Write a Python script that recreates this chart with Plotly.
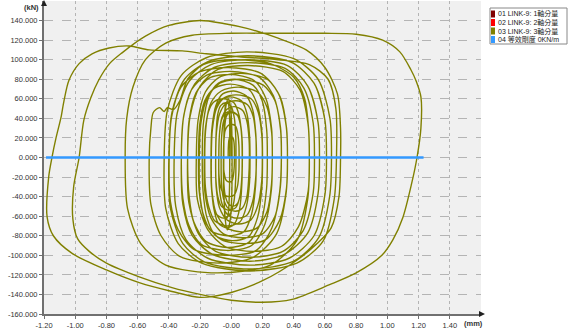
import plotly.graph_objects as go

# ---- hysteresis path of LINK-9, axis 3 (displacement mm, force kN) ----
growth_path = [
    (-0.02, 0),
    (-0.019, 10), (-0.016, 17), (-0.01, 21), (0.0, 22), (0.011, 20), (0.017, 16), (0.02, 8), (0.02, 0),
    (0.019, -9), (0.014, -18), (0.005, -24), (-0.015, -25), (-0.034, -23), (-0.043, -18), (-0.049, -11), (-0.05, 0),
    (-0.048, 15), (-0.04, 27), (-0.025, 32), (0.0, 34), (0.028, 32), (0.042, 24), (0.049, 12), (0.05, 0),
    (0.049, -14), (0.04, -29), (0.02, -38), (-0.015, -40), (-0.05, -37), (-0.07, -29), (-0.079, -18), (-0.08, 0),
    (-0.077, 21), (-0.065, 37), (-0.04, 45), (-0.005, 47), (0.037, 44), (0.058, 34), (0.069, 16), (0.07, 0),
    (0.068, -19), (0.056, -39), (0.03, -51), (-0.015, -54), (-0.063, -50), (-0.086, -40), (-0.098, -24), (-0.10, 0),
    (-0.097, 25), (-0.087, 44), (-0.068, 53), (-0.035, 56), (0.0, 52), (0.02, 40), (0.029, 20), (0.03, 0),
    (0.028, -22), (0.017, -45), (-0.01, -58), (-0.05, -62), (-0.095, -58), (-0.117, -45), (-0.128, -28), (-0.13, 0),
    (-0.125, 28), (-0.105, 48), (-0.068, 59), (-0.005, 62), (0.065, 58), (0.10, 45), (0.117, 22), (0.12, 0),
    (0.117, -25), (0.097, -50), (0.055, -66), (-0.025, -70), (-0.105, -65), (-0.145, -50), (-0.166, -30), (-0.17, 0),
    (-0.165, 27), (-0.146, 47), (-0.11, 57), (-0.05, 60), (0.017, 56), (0.05, 43), (0.067, 21), (0.07, 0),
    (0.068, -26), (0.054, -52), (0.02, -68), (-0.03, -72), (-0.084, -67), (-0.112, -52), (-0.126, -30), (-0.128, 0),
    (-0.122, 31), (-0.099, 53), (-0.055, 65), (0.016, 68), (0.096, 63), (0.137, 49), (0.157, 24), (0.16, 0),
    (0.156, -28), (0.13, -58), (0.08, -76), (-0.025, -80), (-0.13, -75), (-0.18, -58), (-0.206, -34), (-0.21, 0),
    (-0.202, 34), (-0.17, 58), (-0.107, 71), (-0.005, 75), (0.11, 70), (0.167, 54), (0.196, 26), (0.20, 0),
    (0.196, -30), (0.169, -61), (0.11, -81), (0.007, -85), (-0.10, -80), (-0.155, -62), (-0.18, -36), (-0.186, 0),
    (-0.178, 36), (-0.144, 62), (-0.082, 76), (0.022, 80), (0.139, 74), (0.198, 58), (0.227, 28), (0.231, 0),
    (0.226, -32), (0.19, -66), (0.11, -87), (-0.025, -92), (-0.16, -86), (-0.24, -66), (-0.27, -40), (-0.28, 0),
    (-0.27, 38), (-0.226, 66), (-0.144, 81), (-0.008, 85), (0.144, 79), (0.22, 61), (0.258, 30), (0.263, 0),
    (0.257, -33), (0.216, -68), (0.13, -90), (-0.03, -95), (-0.19, -89), (-0.27, -70), (-0.31, -42), (-0.32, 0),
    (-0.307, 40), (-0.256, 69), (-0.16, 84), (0.0, 88), (0.18, 82), (0.27, 63), (0.315, 31), (0.321, 0),
    (0.31, -35), (0.26, -72), (0.16, -95), (-0.04, -100), (-0.24, -94), (-0.34, -74), (-0.39, -45), (-0.398, 0),
    (-0.383, 41), (-0.322, 72), (-0.21, 87), (-0.02, 92), (0.19, 86), (0.30, 66), (0.352, 32), (0.36, 0),
    (0.35, -38), (0.29, -78), (0.14, -102), (-0.08, -108), (-0.33, -101), (-0.45, -80), (-0.515, -48), (-0.526, 0),
]

peak_path = [
    (-0.515, 30), (-0.50, 46), (-0.46, 51), (-0.43, 47), (-0.41, 51), (-0.37, 49),
    (-0.33, 58), (-0.28, 80), (-0.18, 95), (0.0, 100), (0.25, 96), (0.40, 82),
    (0.47, 60), (0.495, 30), (0.50, 0),
    (0.49, -42), (0.42, -85), (0.25, -110), (-0.09, -118), (-0.42, -110),
    (-0.58, -88), (-0.665, -52), (-0.68, 0),
    (-0.67, 40), (-0.63, 72), (-0.55, 100), (-0.42, 117), (-0.25, 125),
    (0.0, 127), (0.30, 127), (0.60, 127), (0.80, 126), (0.97, 120),
    (1.08, 108), (1.15, 90), (1.185, 78), (1.215, 62), (1.215, 30), (1.19, 0),
    (1.155, -27), (1.10, -61), (1.036, -84), (0.965, -100), (0.80, -118),
    (0.63, -130), (0.39, -145), (0.20, -148),
    (0.0, -146), (-0.20, -140), (-0.38, -133), (-0.59, -122), (-0.80, -108),
    (-0.91, -96), (-0.985, -83), (-1.015, -63), (-1.01, -30), (-0.975, 0),
    (-0.945, 38), (-0.90, 61), (-0.85, 79), (-0.78, 96), (-0.70, 107),
    (-0.55, 124), (-0.40, 135), (-0.20, 140), (-0.05, 137), (0.10, 132),
    (0.30, 122), (0.48, 110), (0.60, 92), (0.68, 65), (0.70, 30), (0.70, 0),
    (0.69, -40), (0.64, -72), (0.55, -88), (0.42, -105), (0.20, -126),
    (0.0, -138), (-0.20, -143), (-0.38, -137), (-0.59, -128), (-0.80, -115),
    (-1.02, -98), (-1.14, -80), (-1.18, -61), (-1.17, -20), (-1.149, 0),
    (-1.123, 20), (-1.091, 41), (-1.072, 58), (-1.04, 79), (-0.975, 96),
    (-0.892, 106), (-0.783, 112), (-0.654, 114), (-0.526, 110),
    (-0.314, 109), (-0.16, 106), (0.05, 103), (0.30, 100), (0.50, 95),
    (0.62, 80), (0.67, 50), (0.674, 0),
]

decay_path = [
    (0.66, -42), (0.59, -85), (0.42, -108), (0.12, -116), (-0.19, -108), (-0.34, -88), (-0.42, -52), (-0.43, 0),
    (-0.41, 48), (-0.32, 84), (-0.16, 102), (0.10, 108), (0.40, 101), (0.556, 80), (0.632, 40), (0.642, 0),
    (0.63, -40), (0.56, -82), (0.40, -106), (0.12, -114), (-0.17, -107), (-0.31, -88), (-0.39, -52), (-0.40, 0),
    (-0.38, 46), (-0.30, 80), (-0.15, 98), (0.105, 104), (0.39, 97), (0.53, 76), (0.60, 38), (0.61, 0),
    (0.60, -38), (0.53, -80), (0.37, -103), (0.12, -110), (-0.15, -103), (-0.29, -84), (-0.356, -50), (-0.366, 0),
    (-0.347, 45), (-0.27, 78), (-0.13, 95), (0.10, 100), (0.36, 94), (0.49, 73), (0.556, 36), (0.565, 0),
    (0.556, -37), (0.49, -77), (0.34, -99), (0.12, -106), (-0.12, -99), (-0.25, -80), (-0.31, -48), (-0.32, 0),
    (-0.303, 44), (-0.235, 75), (-0.11, 92), (0.106, 97), (0.345, 91), (0.465, 71), (0.525, 35), (0.533, 0),
    (0.525, -36), (0.46, -75), (0.33, -96), (0.12, -102), (-0.10, -96), (-0.21, -78), (-0.272, -46), (-0.28, 0),
    (-0.264, 42), (-0.20, 73), (-0.085, 90), (0.11, 94), (0.33, 88), (0.44, 69), (0.492, 34), (0.50, 0),
    (0.493, -34), (0.43, -71), (0.32, -91), (0.14, -96), (-0.04, -91), (-0.15, -74), (-0.217, -43), (-0.224, 0),
    (-0.212, 39), (-0.166, 67), (-0.078, 82), (0.068, 86), (0.23, 80), (0.313, 62), (0.354, 30), (0.36, 0),
    (0.354, -31), (0.31, -64), (0.22, -84), (0.078, -88), (-0.064, -84), (-0.16, -68), (-0.20, -40), (-0.205, 0),
    (-0.194, 36), (-0.152, 62), (-0.073, 76), (0.058, 80), (0.205, 74), (0.28, 58), (0.316, 28), (0.321, 0),
    (0.315, -29), (0.28, -60), (0.20, -78), (0.074, -82), (-0.05, -78), (-0.13, -62), (-0.168, -37), (-0.173, 0),
    (-0.164, 32), (-0.13, 56), (-0.064, 68), (0.045, 72), (0.167, 67), (0.228, 52), (0.259, 25), (0.263, 0),
    (0.258, -27), (0.23, -55), (0.165, -72), (0.067, -76), (-0.03, -72), (-0.097, -57), (-0.124, -34), (-0.128, 0),
    (-0.121, 29), (-0.095, 50), (-0.046, 61), (0.035, 64), (0.127, 60), (0.173, 46), (0.196, 22), (0.199, 0),
    (0.195, -24), (0.17, -49), (0.124, -64), (0.05, -68), (-0.025, -64), (-0.076, -51), (-0.097, -30), (-0.10, 0),
    (-0.095, 26), (-0.074, 45), (-0.035, 55), (0.03, 58), (0.104, 54), (0.14, 42), (0.158, 20), (0.161, 0),
    (0.156, -22), (0.137, -45), (0.10, -59), (0.04, -62), (-0.02, -59), (-0.06, -47), (-0.078, -28), (-0.08, 0),
    (-0.076, 23), (-0.06, 41), (-0.03, 49), (0.018, 52), (0.073, 48), (0.10, 37), (0.114, 18), (0.116, 0),
    (0.112, -20), (0.10, -40), (0.07, -52), (0.025, -55), (-0.02, -52), (-0.05, -42), (-0.063, -25), (-0.065, 0),
    (-0.062, 21), (-0.051, 36), (-0.031, 44), (0.003, 46), (0.041, 43), (0.06, 33), (0.07, 16), (0.071, 0),
    (0.069, -18), (0.06, -36), (0.04, -47), (0.01, -50), (-0.02, -47), (-0.04, -38), (-0.049, -22), (-0.05, 0),
    (-0.045, 30), (-0.035, 52), (-0.02, 60), (-0.005, 52), (0.003, 30), (0.005, 0),
    (0.003, -40), (-0.008, -65), (-0.025, -74), (-0.04, -62), (-0.047, -35), (-0.048, 0),
    (-0.045, 35), (-0.035, 55), (-0.022, 57), (-0.012, 45), (-0.01, 20), (-0.01, 0),
    (-0.012, -35), (-0.022, -60), (-0.035, -63), (-0.046, -45), (-0.05, -20), (-0.05, 0),
    (-0.045, 25), (-0.032, 42), (-0.015, 45), (-0.003, 30), (0.0, 0),
]

# equivalent-stiffness line (0 kN/m) spanning the displacement envelope
stiff_disp = [-1.187, 1.232]
stiff_force = [0.0, 0.0]

legend_names = ["01 LINK-9: 1軸分量", "02 LINK-9: 2軸分量",
                "03 LINK-9: 3軸分量", "04 等效剛度 0KN/m"]
legend_colors = ["#800000", "#ff0000", "#808000", "#3399ff"]

x_ticks = [-1.2, -1.0, -0.8, -0.6, -0.4, -0.2, 0.0, 0.2, 0.4, 0.6, 0.8, 1.0, 1.2, 1.4]
x_labels = ["-1.20", "-1.00", "-0.80", "-0.60", "-0.40", "-0.20", "-0.00",
            "0.20", "0.40", "0.60", "0.80", "1.00", "1.20", "1.40"]
y_ticks = [140, 120, 100, 80, 60, 40, 20, 0, -20, -40, -60, -80, -100, -120, -140, -160]
y_labels = ["140.000", "120.000", "100.000", "80.000", "60.000", "40.000", "20.000",
            "0.000", "-20.000", "-40.000", "-60.000", "-80.000", "-100.000",
            "-120.000", "-140.000", "-160.000"]

path = growth_path + peak_path + decay_path
disp = [p[0] for p in path]
force = [p[1] for p in path]

W, H = 568, 331
L, R, T, B = 44, 87, 1, 17
PW, PH = W - L - R, H - T - B


def px(xp):
    return (xp - L) / PW


def py(yp):
    return (H - B - yp) / PH


fig = go.Figure()
fig.add_trace(go.Scatter(x=disp, y=force, mode="lines",
                         line=dict(color=legend_colors[2], width=1.4, shape="spline", smoothing=0.8),
                         hoverinfo="skip", showlegend=False))
fig.add_trace(go.Scatter(x=stiff_disp, y=stiff_force, mode="lines",
                         line=dict(color=legend_colors[3], width=2.4),
                         hoverinfo="skip", showlegend=False))

axis_font = dict(family="Liberation Sans, Arial, sans-serif", size=7.5, color="#333333")
fig.update_xaxes(range=[-1.2, 1.6], tickvals=x_ticks, ticktext=x_labels,
                 showgrid=True, gridcolor="#b4b4b4", griddash="dot", gridwidth=1,
                 zeroline=False, showline=True, linecolor="#707070", linewidth=2,
                 ticks="outside", ticklen=3, tickcolor="#707070", tickfont=axis_font)
fig.update_yaxes(range=[-160, 160], tickvals=y_ticks, ticktext=y_labels,
                 showgrid=True, gridcolor="#b4b4b4", griddash="dash", gridwidth=1,
                 zeroline=False, showline=True, linecolor="#707070", linewidth=2,
                 ticks="outside", ticklen=3, tickcolor="#707070", tickfont=axis_font)

shapes = [
    # axis arrowheads
    dict(type="path", xref="paper", yref="paper", line=dict(width=0), fillcolor="#202020",
         path=f"M {px(41)} {py(6)} L {px(47)} {py(6)} L {px(44)} {py(0)} Z"),
    dict(type="path", xref="paper", yref="paper", line=dict(width=0), fillcolor="#202020",
         path=f"M {px(479)} {py(311)} L {px(479)} {py(317)} L {px(485)} {py(314)} Z"),
    # legend frame
    dict(type="rect", xref="paper", yref="paper", x0=px(490), x1=px(567), y0=py(8), y1=py(44),
         line=dict(color="#888888", width=1), fillcolor="white"),
]
annotations = [
    dict(text="<b>(kN)</b>", xref="paper", yref="paper", x=px(41), y=py(7),
         xanchor="right", yanchor="middle", showarrow=False, font=axis_font),
    dict(text="<b>(mm)</b>", xref="paper", yref="paper", x=px(473), y=py(323),
         xanchor="center", yanchor="middle", showarrow=False, font=axis_font),
]
leg_font = dict(family="Liberation Sans, Noto Sans CJK TC, sans-serif", size=7, color="#222222")
for i, (name, col) in enumerate(zip(legend_names, legend_colors)):
    yc = 14 + i * 8.5
    shapes.append(dict(type="rect", xref="paper", yref="paper",
                       x0=px(491), x1=px(495), y0=py(yc - 3.5), y1=py(yc + 3.5),
                       line=dict(width=0), fillcolor=col))
    annotations.append(dict(text=name, xref="paper", yref="paper", x=px(496), y=py(yc),
                            xanchor="left", yanchor="middle", showarrow=False, font=leg_font))

fig.update_layout(width=W, height=H, margin=dict(l=L, r=R, t=T, b=B),
                  paper_bgcolor="white", plot_bgcolor="#f0f0f0",
                  showlegend=False, shapes=shapes, annotations=annotations)

fig.write_html("out.html")
